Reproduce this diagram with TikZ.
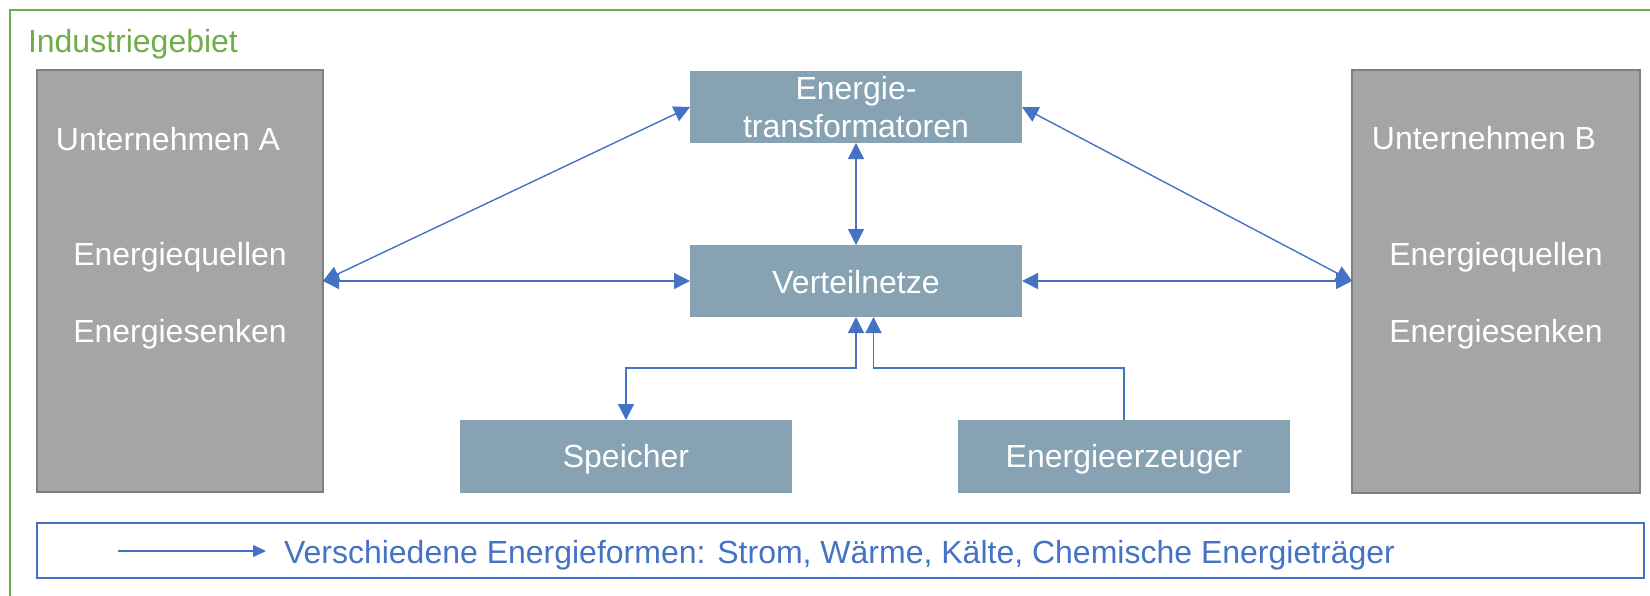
\documentclass[tikz,border=0pt]{standalone}
\usepackage{fontspec}
\setmainfont{Liberation Sans}
\usetikzlibrary{arrows.meta}
\definecolor{frameGreen}{HTML}{70AD47}
\definecolor{lineBlue}{HTML}{4472C4}
\definecolor{boxBlue}{HTML}{87A2B3}
\definecolor{compGray}{HTML}{A5A5A5}
\definecolor{compBorder}{HTML}{7F7F7F}
\begin{document}
\begin{tikzpicture}[x=1pt,y=-1pt,
  lbl/.style={font=\fontsize{32}{37.5}\selectfont, inner sep=0pt, outer sep=0pt},
  whitelbl/.style={lbl, text=white},
  company/.style={draw=compBorder, fill=compGray, line width=2pt, inner sep=0pt, outer sep=0pt},
  unitbox/.style={fill=boxBlue, text=white, inner sep=0pt, outer sep=0pt, align=center,
    minimum width=332pt, font=\fontsize{32}{37.5}\selectfont},
  link/.style={draw=lineBlue, line width=1.4pt},
  tipx/.style={-{Triangle[length=16pt,width=16pt]}},
  tipxx/.style={{Triangle[length=16pt,width=16pt]}-{Triangle[length=16pt,width=16pt]}},
  legtip/.style={-{Triangle[length=13pt,width=12pt]}}
]
\useasboundingbox (0,0) rectangle (1650,595);
\begin{scope}
  \clip (0,0) rectangle (1650,595);
  \draw[frameGreen, line width=2pt] (10,10) rectangle (1670,615);
\end{scope}
\node[lbl, text=frameGreen, anchor=base west] (title) at (28,52) {Industriegebiet};

% companies
\node[company, minimum width=286pt, minimum height=422pt] (A) at (180,281) {};
\node[company, minimum width=288pt, minimum height=423pt] (B) at (1496,281) {};
\node[whitelbl, anchor=base] (Aname) at (168,150) {Unternehmen A};
\node[whitelbl, anchor=base] (Aq) at (180,265) {Energiequellen};
\node[whitelbl, anchor=base] (As) at (180,342) {Energiesenken};
\node[whitelbl, anchor=base] (Bname) at (1484,149) {Unternehmen B};
\node[whitelbl, anchor=base] (Bq) at (1496,265) {Energiequellen};
\node[whitelbl, anchor=base] (Bs) at (1496,342) {Energiesenken};

% central units
\node[unitbox, minimum height=72pt] (ET) at (856,107) {Energie-\\transformatoren};
\node[unitbox, minimum height=72pt, text height=24pt, text depth=0pt] (VN) at (856,281) {Verteilnetze};
\node[unitbox, minimum height=73pt, text height=27pt, text depth=6pt] (SP) at (626,456.5) {Speicher};
\node[unitbox, minimum height=73pt, text height=27pt, text depth=6pt] (EE) at (1124,456.5) {Energieerzeuger};

% connectors
\draw[link, tipxx] (A.east) -- (ET.west);
\draw[link, tipxx] (A.east) -- (VN.west);
\draw[link, tipxx] (B.west) -- (ET.east);
\draw[link, tipxx] (B.west) -- (VN.east);
\draw[link, tipxx] (ET.south) -- (VN.north);
\coordinate (bus) at (856,368);
\coordinate (vnin) at ([xshift=17.5pt]VN.south);
\draw[link, tipxx] (VN.south) -- (VN.south |- bus) -| (SP.north);
\draw[link, tipx] (EE.north) |- (vnin |- bus) -- (vnin);

% legend
\node[draw=lineBlue, line width=1.5pt, inner sep=0pt, outer sep=0pt,
  minimum width=1607pt, minimum height=55pt] (legend) at (840.5,550.5) {};
\coordinate (ls) at (118,551);
\coordinate (le) at (266,551);
\draw[link, legtip] (ls) -- (le);
\node[lbl, text=lineBlue, anchor=base west] (legtext) at (284,563)
  {Verschiedene Energieformen: Strom, Wärme, Kälte, Chemische Energieträger};
\end{tikzpicture}
\end{document}
